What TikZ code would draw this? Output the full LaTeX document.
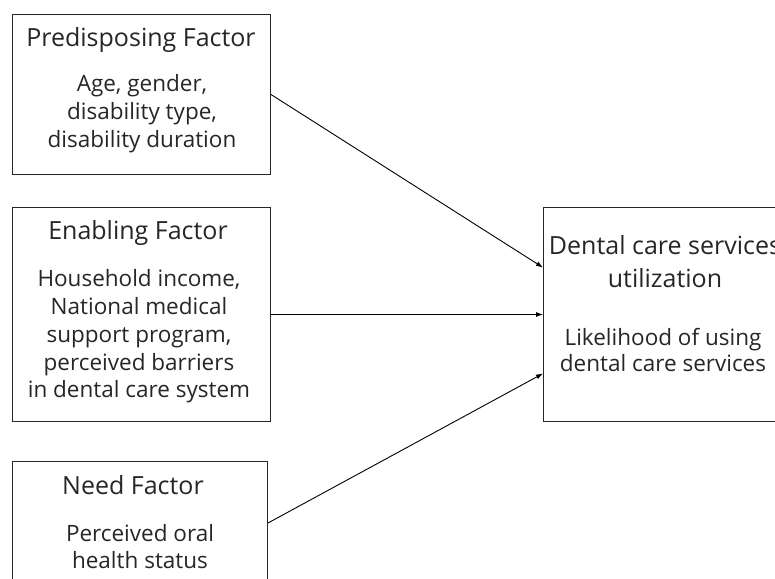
\documentclass[tikz,border=0pt]{standalone}
\usepackage{fontspec}
\setmainfont{Open Sans}
\usetikzlibrary{arrows.meta,calc}
\begin{document}
\begin{tikzpicture}[x=1pt,y=-1pt,
  box/.style={draw=black!85,line width=1pt,anchor=north west,inner sep=0pt},
  ttl/.style={font=\fontsize{25}{30}\selectfont,align=center,text=black!85,inner sep=0pt},
  bdy/.style={font=\fontsize{22.5}{27.8}\selectfont,align=center,text=black!85,inner sep=0pt},
  arr/.style={draw=black,line width=0.9pt,-{Latex[length=7pt,width=5pt]}}]
\useasboundingbox (0,0) rectangle (775,578);
\clip (0,0) rectangle (775,578);
\node[box,minimum width=258pt,minimum height=160pt] (b1) at (12,14) {};
\node[box,minimum width=258pt,minimum height=214pt] (b2) at (12,207) {};
\node[box,minimum width=255pt,minimum height=124pt] (b3) at (12,461) {};
\node[box,minimum width=244pt,minimum height=214pt] (b4) at (543,207) {};
\node[ttl] (t1) at (141,40) {Predisposing Factor};
\node[bdy] (d1) at (142,113.5) {Age, gender,\\disability type,\\disability duration};
\node[ttl] (t2) at (138,233) {Enabling Factor};
\node[bdy] (d2) at (139,336.5) {Household income,\\National medical\\support program,\\perceived barriers\\in dental care system};
\node[ttl] (t3) at (133,485) {Need Factor};
\node[bdy] (d3) at (140,546.5) {Perceived oral\\health status};
\node[ttl,font=\fontsize{25}{33}\selectfont] (t4) at (665,261.5) {Dental care services\\utilization};
\node[bdy,font=\fontsize{22.5}{26.5}\selectfont] (d4) at (663,350) {Likelihood of using\\dental care services};
\draw[arr] (b1.east) -- ($(b4.west)+(0,-47)$);
\draw[arr] (b2.east) -- (b4.west);
\draw[arr] ($(b3.north east)+(0,62)$) -- ($(b4.west)+(0,59)$);
\end{tikzpicture}
\end{document}
